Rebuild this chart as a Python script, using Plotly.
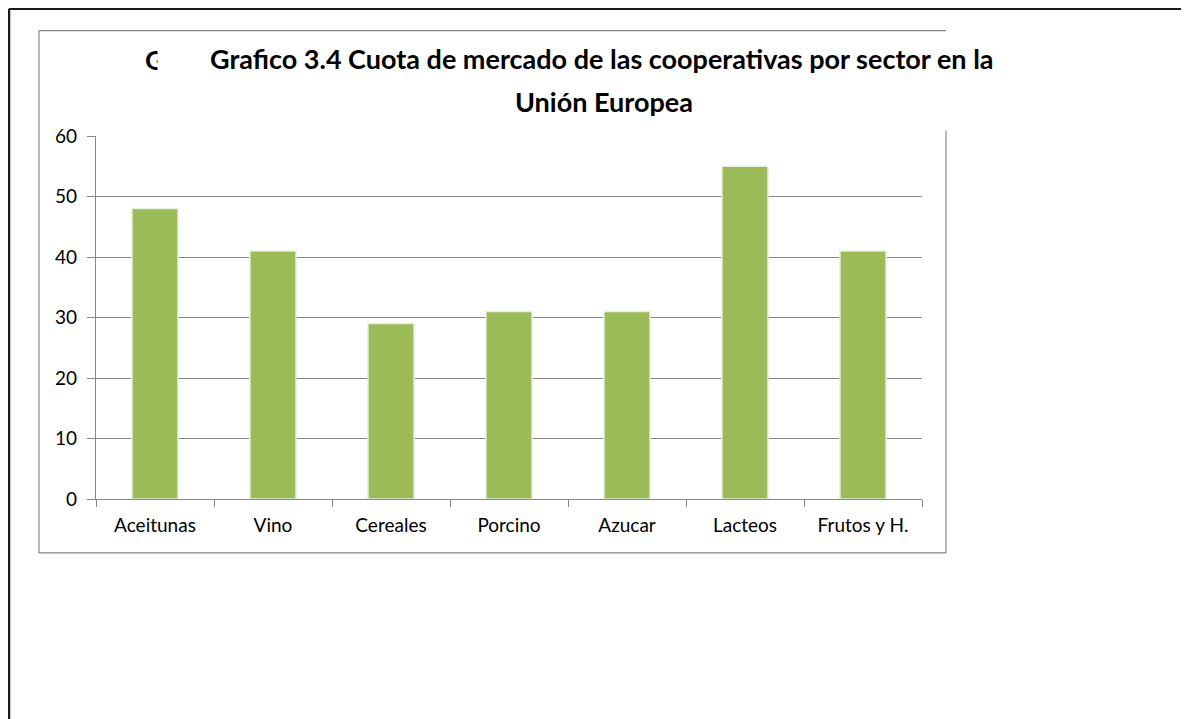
import plotly.graph_objects as go

categories = ["Aceitunas", "Vino", "Cereales", "Porcino", "Azucar", "Lacteos", "Frutos y H."]
values = [48, 41, 29, 31, 31, 55, 41]
y_ticks = [0, 10, 20, 30, 40, 50, 60]
title_line1 = "Grafico 3.4 Cuota de mercado de las cooperativas por sector en la"
title_line2 = "Unión Europea"

W, H = 1189, 719
OFF = 8  # page body margin
L, R, T, B = 96 - OFF, 922 - OFF, 135.5 - OFF, 499 - OFF
FONT = "Lato"


def px(x):
    return (x - OFF - L) / (R - L)


def py(y):
    return (B - (y - OFF)) / (B - T)


fig = go.Figure()
fig.add_trace(go.Bar(
    x=categories, y=values, width=0.39,
    marker=dict(color="#9BBB59", line=dict(color="#E6EEDC", width=1.5)),
))

grid = "#878787"
shapes = []
# outer page border (left + top)
shapes.append(dict(type="line", xref="paper", yref="paper", x0=px(9), x1=px(W + 20), y0=py(8), y1=py(8),
                   line=dict(color="#1a1a1a", width=2.5)))
shapes.append(dict(type="line", xref="paper", yref="paper", x0=px(9), x1=px(9), y0=py(8), y1=py(H + 20),
                   line=dict(color="#1a1a1a", width=2.5)))
# chart box
box = dict(color=grid, width=1.2)
shapes.append(dict(type="line", xref="paper", yref="paper", x0=px(39), x1=px(946), y0=py(30), y1=py(30), line=box))
shapes.append(dict(type="line", xref="paper", yref="paper", x0=px(39), x1=px(39), y0=py(30), y1=py(553), line=box))
shapes.append(dict(type="line", xref="paper", yref="paper", x0=px(39), x1=px(946), y0=py(553), y1=py(553), line=box))
shapes.append(dict(type="line", xref="paper", yref="paper", x0=px(946), x1=px(946), y0=py(130), y1=py(553), line=box))

TS = 27
annotations = [
    dict(text="<b>G</b>", xref="paper", yref="paper", x=px(143), y=py(59), showarrow=False,
         font=dict(family=FONT, size=TS, color="black"), xanchor="left", yanchor="middle"),
    # mask clipping the stray G, as in the original
    dict(text=" ", xref="paper", yref="paper", x=px(157), y=py(59), showarrow=False,
         width=30, height=36, bgcolor="white", xanchor="left", yanchor="middle"),
    dict(text="<b>" + title_line1 + "</b>", xref="paper", yref="paper", x=px(602), y=py(58), showarrow=False,
         font=dict(family=FONT, size=TS, color="black"), xanchor="center", yanchor="middle"),
    dict(text="<b>" + title_line2 + "</b>", xref="paper", yref="paper", x=px(604), y=py(101), showarrow=False,
         font=dict(family=FONT, size=TS, color="black"), xanchor="center", yanchor="middle"),
]

fig.update_layout(
    width=W, height=H,
    margin=dict(l=L, r=W - R, t=T, b=H - B, pad=0),
    paper_bgcolor="white", plot_bgcolor="white",
    showlegend=False,
    shapes=shapes, annotations=annotations,
    font=dict(family=FONT, size=19, color="black"),
    bargap=0.61,
)
fig.update_xaxes(
    type="category", showgrid=False, showline=True, linecolor=grid, linewidth=1.2,
    ticks="outside", tickson="boundaries", ticklen=7, tickcolor=grid, tickwidth=1.2,
    tickfont=dict(family=FONT, size=19), range=[-0.5, 6.5], ticklabelstandoff=9,
)
fig.update_yaxes(
    range=[0, 60], tickvals=y_ticks, showgrid=True, gridcolor=grid, gridwidth=1.2,
    showline=True, linecolor=grid, linewidth=1.2, ticks="outside", ticklen=8,
    tickcolor=grid, tickwidth=1.2, tickfont=dict(family=FONT, size=19), zeroline=False,
    ticklabelstandoff=6,
)

fig.write_html("out.html")
